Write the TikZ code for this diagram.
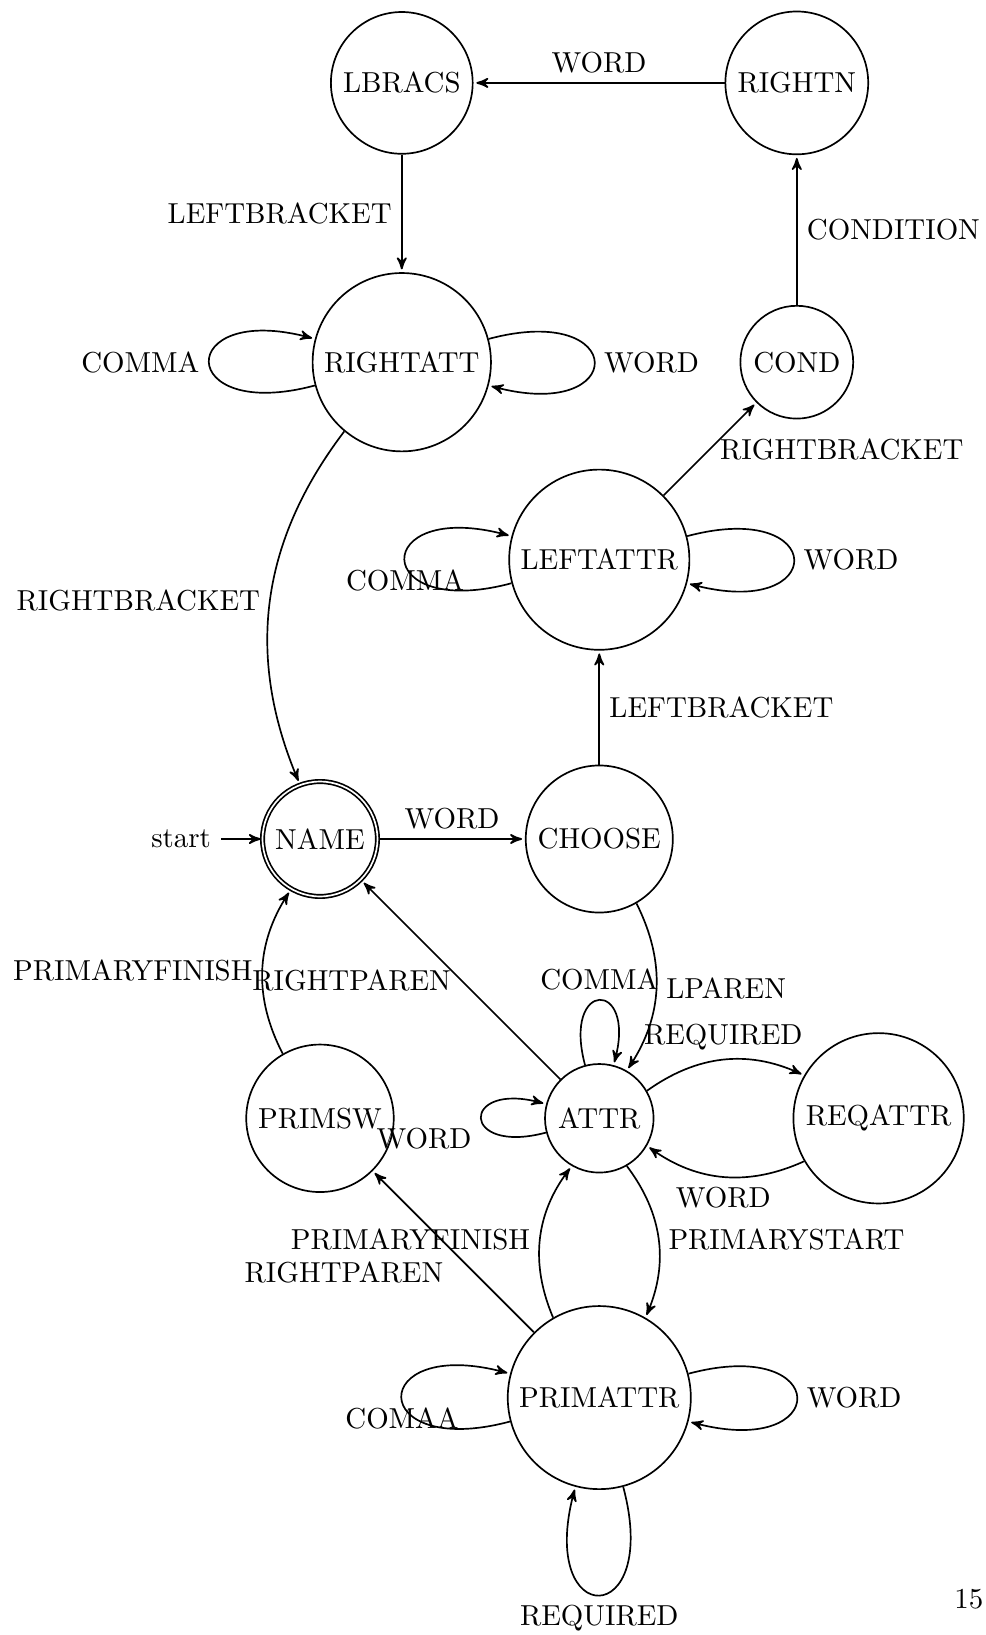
\documentclass[tikz,border=0pt]{standalone}
\usetikzlibrary{automata,arrows}
\begin{document}
\begin{tikzpicture}[>=stealth',shorten >=1pt,semithick,font=\fontsize{10.3pt}{12.4pt}\selectfont]
		\useasboundingbox (-4.01,-9.975) rectangle (8.346,10.514);
		
		% States
		\node[state,accepting] (NAME) at (0,0) {NAME};
		\node[state] (CHOOSE) at (3.5,0) {CHOOSE};
		\node[state] (LEFTATTR) at (3.5,3.5) {LEFTATTR};
		\node[state] (RIGHTATT) at (1.025,5.975) {RIGHTATT};
		\node[state] (COND) at (5.975,5.975) {COND};
		\node[state] (LBRACS) at (1.025,9.475) {LBRACS};
		\node[state] (RIGHTN) at (5.975,9.475) {RIGHTN};
		\node[state] (PRIMSW) at (0,-3.5) {PRIMSW};
		\node[state] (ATTR) at (3.5,-3.5) {ATTR};
		\node[state] (REQATTR) at (7,-3.5) {REQATTR};
		\node[state] (PRIMATTR) at (3.5,-7) {PRIMATTR};
		\node (start) at (-1.74,0) {start};
		\node (pagenum) at (8.13,-9.53) {15};
		
		% Transitions
		\draw[->,shorten >=0pt] (start) -- (NAME);
		\draw[->] (NAME) -- node[above] {WORD} (CHOOSE);
		\draw[->] (CHOOSE) -- node[right] {LEFTBRACKET} (LEFTATTR);
		\draw[->] (LEFTATTR) -- node[right] {RIGHTBRACKET} (COND);
		\draw[->] (COND) -- node[right] {CONDITION} (RIGHTN);
		\draw[->] (RIGHTN) -- node[above] {WORD} (LBRACS);
		\draw[->] (LBRACS) -- node[left] {LEFTBRACKET} (RIGHTATT);
		\draw[->] (RIGHTATT) to[bend right] node[left] {RIGHTBRACKET} (NAME);
		\draw[->] (CHOOSE) to[bend left] node[right] {LPAREN} (ATTR);
		\draw[->] (ATTR) -- node[left] {RIGHTPAREN} (NAME);
		\draw[->] (ATTR) to[bend left] node[above] {REQUIRED} (REQATTR);
		\draw[->] (REQATTR) to[bend left] node[below] {WORD} (ATTR);
		\draw[->] (ATTR) to[bend left] node[right] {PRIMARYSTART} (PRIMATTR);
		\draw[->] (PRIMATTR) to[bend left] node[left] {PRIMARYFINISH} (ATTR);
		\draw[->] (PRIMATTR) -- node[below left] {RIGHTPAREN} (PRIMSW);
		\draw[->] (PRIMSW) to[bend left] node[left] {PRIMARYFINISH} (NAME);
		
		% Loops
		\draw[->] (RIGHTATT) to[loop left] node[left] {COMMA} (RIGHTATT);
		\draw[->] (RIGHTATT) to[loop right] node[right] {WORD} (RIGHTATT);
		\draw[->] (LEFTATTR) to[loop left] node[below] {COMMA} (LEFTATTR);
		\draw[->] (LEFTATTR) to[loop right] node[right] {WORD} (LEFTATTR);
		\draw[->] (ATTR) to[loop above] node[above] {COMMA} (ATTR);
		\draw[->] (ATTR) to[loop left] node[below left] {WORD} (ATTR);
		\draw[->] (PRIMATTR) to[loop left] node[below] {COMAA} (PRIMATTR);
		\draw[->] (PRIMATTR) to[loop right] node[right] {WORD} (PRIMATTR);
		\draw[->] (PRIMATTR) to[loop below] node[below] {REQUIRED} (PRIMATTR);
\end{tikzpicture}
\end{document}
